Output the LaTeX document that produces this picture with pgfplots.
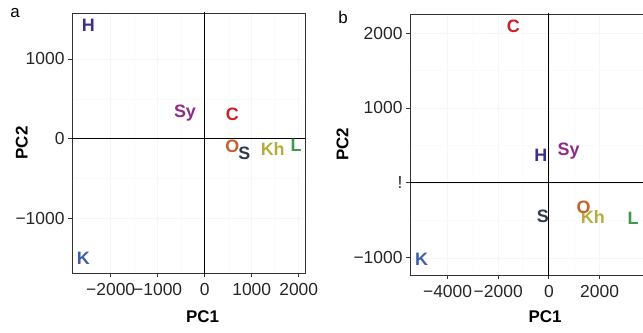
\documentclass[border=0pt]{standalone}
\usepackage{fontspec}
\setmainfont{Liberation Sans}
\usepackage{pgfplots}
\pgfplotsset{compat=1.18}
\definecolor{cH}{HTML}{3B2E8C}
\definecolor{cSy}{HTML}{8E2A88}
\definecolor{cC}{HTML}{CC2026}
\definecolor{cO}{HTML}{C4622A}
\definecolor{cS}{HTML}{2F3A4A}
\definecolor{cKh}{HTML}{B5AE3C}
\definecolor{cL}{HTML}{3E9A48}
\definecolor{cK}{HTML}{3F5DAE}
\definecolor{frame}{HTML}{333333}
\newcommand{\lab}[4]{\addplot[only marks, mark=none, nodes near coords={\textbf{#1}}, nodes near coords style={anchor=center, text=#2, font=\fontsize{18}{19}\selectfont}] coordinates {(#3,#4)};}
\pgfplotsset{
  pca/.style={
    scale only axis,
    axis line style={frame, line width=0.8pt},
    tick style={frame, line width=0.8pt},
    tick align=outside,
    major tick length=4bp,
    xtick pos=bottom, ytick pos=left,
    tick label style={font=\fontsize{17.5}{19}\selectfont, text=black!85},
    xticklabel style={yshift=-3bp},
    label style={font=\bfseries\fontsize{17}{19}\selectfont},
    grid=both,
    major grid style={gray!7, line width=0.5pt},
    minor grid style={gray!4, line width=0.4pt},
    minor tick num=1,
    minor tick length=0pt,
    clip=true,
  }
}
\begin{document}
\begin{tikzpicture}[x=1bp,y=1bp]
\useasboundingbox (0,0) rectangle (643,332);
\begin{axis}[pca, at={(72bp,59bp)}, anchor=south west, width=233bp, height=260bp,
  xmin=-2823, xmax=2134, ymin=-1685, ymax=1577,
  xtick={-2000,-1000,0,1000,2000}, xticklabels={−2000,−1000,0,1000,2000},
  ytick={-1000,0,1000}, yticklabels={−1000,0,1000},
  xlabel={PC1}, ylabel={PC2},
  xlabel style={at={(axis description cs:0.56,0)}, anchor=north, yshift=-34bp},
  ylabel style={at={(axis description cs:-0.215,0.5)}, anchor=center, rotate=0},
]
\addplot[black, line width=0.8pt] coordinates {(-3000,0) (3000,0)};
\addplot[black, line width=0.8pt] coordinates {(0,-2000) (0,2000)};
\lab{H}{cH}{-2477}{1427}
\lab{Sy}{cSy}{-419}{319}
\lab{C}{cC}{587}{310}
\lab{O}{cO}{587}{-100}
\lab{S}{cS}{843}{-183}
\lab{Kh}{cKh}{1447}{-129}
\lab{L}{cL}{1943}{-79}
\lab{K}{cK}{-2583}{-1501}
\end{axis}
\node[anchor=center, font=\fontsize{17}{18}\selectfont] at (15,319) {a};
\begin{axis}[pca, at={(410bp,57bp)}, anchor=south west, width=233bp, height=261bp,
  xmin=-5482, xmax=3715, ymin=-1230, ymax=2255,
  xtick={-4000,-2000,0,2000}, xticklabels={−4000,−2000,0,2000},
  ytick={-1000,0,1000,2000}, yticklabels={−1000,!,1000,2000},
  xlabel={PC1}, ylabel={PC2},
  xlabel style={at={(axis description cs:0.58,0)}, anchor=north, yshift=-32bp},
  ylabel style={at={(axis description cs:-0.29,0.5)}, anchor=center, rotate=0},
]
\addplot[black, line width=0.8pt] coordinates {(-6000,0) (4000,0)};
\addplot[black, line width=0.8pt] coordinates {(0,-2000) (0,3000)};
\lab{C}{cC}{-1399}{2090}
\lab{H}{cH}{-316}{374}
\lab{Sy}{cSy}{775}{418}
\lab{S}{cS}{-237}{-441}
\lab{Kh}{cKh}{1739}{-450}
\lab{O}{cO}{1368}{-325}
\lab{L}{cL}{3320}{-472}
\lab{K}{cK}{-5020}{-1020}
\end{axis}
\node[anchor=center, font=\fontsize{17}{18}\selectfont] at (343,315) {b};
\end{tikzpicture}
\end{document}
